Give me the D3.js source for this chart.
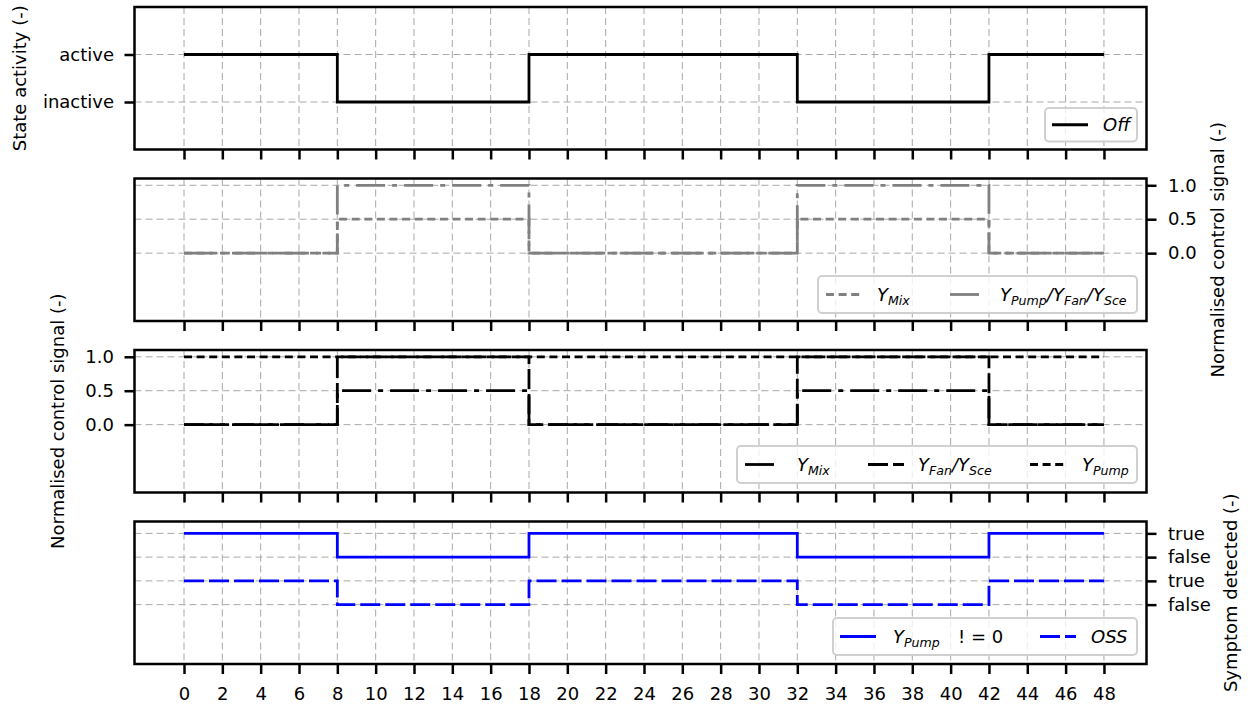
<!DOCTYPE html>
<html>
<head>
<meta charset="utf-8">
<script src="https://cdn.jsdelivr.net/npm/d3@7/dist/d3.min.js"></script>
<style>
  body { margin: 0; background: #fff; }
  svg { display: block; font-family: "DejaVu Sans", sans-serif; }
  .grid line { stroke: #a8a8a8; stroke-width: 1; stroke-dasharray: 7,4; }
  .tick line { stroke: #000; stroke-width: 2.5; }
  .tick text { font-size: 18px; fill: #000; }
  .lbl { font-size: 18px; }
  .leg text { font-size: 18px; font-style: italic; }
</style>
</head>
<body>
<svg id="chart" width="1248" height="707"></svg>
<script>
// switching instants (h) and per-interval values
var switchTimes = [0, 8, 18, 32, 42, 48];
var offState    = [1, 0, 1, 0, 1];           // 1 = active, 0 = inactive
var yMixA       = [0, 0.5, 0, 0.5, 0];
var yPumpFanSce = [0, 1, 0, 1, 0];
var yMixB       = [0, 0.5, 0, 0.5, 0];
var yFanSce     = [0, 1, 0, 1, 0];
var yPump       = [1, 1, 1, 1, 1];
var pumpNonZero = [1, 0, 1, 0, 1];           // true / false
var ossFlag     = [1, 0, 1, 0, 1];
var xTicks = d3.range(0, 49, 2);
var stateLabels = ["inactive", "active"];
var signalTicks = [0, 0.5, 1.0];
var boolLabels = ["false", "true", "false", "true"];

var svg = d3.select("#chart");
var left = 134.5, right = 1146.5;
var x = d3.scaleLinear().domain([-2.583, 50.22]).range([left, right]);

var panelTop = [7, 178.5, 350, 521.5], panelH = 142.5;
var yDomains = [[-1, 2], [-1, 1.1], [-1, 1.1], [-2.5, 3.5]];
var ys = yDomains.map(function(d, i) {
  return d3.scaleLinear().domain(d).range([panelTop[i] + panelH, panelTop[i]]);
});

function stepPts(vals, off) {
  off = off || 0;
  var pts = vals.map(function(v, i) { return [switchTimes[i], v + off]; });
  pts.push([switchTimes[switchTimes.length - 1], vals[vals.length - 1] + off]);
  return pts;
}

function drawPanel(i, yTickVals, yTickFmt, side) {
  var y = ys[i];
  var g = svg.append("g");
  // grid
  var grid = g.append("g").attr("class", "grid");
  grid.selectAll("line.v").data(xTicks).enter().append("line")
    .attr("x1", x).attr("x2", x)
    .attr("y1", panelTop[i]).attr("y2", panelTop[i] + panelH);
  grid.selectAll("line.h").data(yTickVals).enter().append("line")
    .attr("x1", left).attr("x2", right)
    .attr("y1", y).attr("y2", y);
  // x axis ticks
  var xa = g.append("g").attr("transform", "translate(0," + (panelTop[i] + panelH) + ")")
    .call(d3.axisBottom(x).tickValues(xTicks).tickSize(10).tickPadding(13)
      .tickFormat(i === 3 ? d3.format("d") : function() { return ""; }));
  xa.select(".domain").remove();
  // y axis
  var ya;
  if (side === "left") {
    ya = g.append("g").attr("transform", "translate(" + left + ",0)")
      .call(d3.axisLeft(y).tickValues(yTickVals).tickSize(10).tickPadding(10.5).tickFormat(yTickFmt));
  } else {
    ya = g.append("g").attr("transform", "translate(" + right + ",0)")
      .call(d3.axisRight(y).tickValues(yTickVals).tickSize(10).tickPadding(11.5).tickFormat(yTickFmt));
  }
  ya.select(".domain").remove();
  xa.selectAll("text").style("font-family", "DejaVu Sans");
  ya.selectAll("text").style("font-family", "DejaVu Sans");
  return g;
}

var line = function(y) {
  return d3.line().x(function(d) { return x(d[0]); }).y(function(d) { return y(d[1]); }).curve(d3.curveStepAfter);
};

function series(g, y, pts, color, dash) {
  g.append("path").attr("d", line(y)(pts)).attr("fill", "none")
    .attr("stroke", color).attr("stroke-width", 2.8)
    .attr("stroke-dasharray", dash || null);
}

var DASH = "20,5", DOT = "8,4.6", DASHDOT = "29,7,5,7";

// legend helper
function legend(box, items) {
  var lg = svg.append("g").attr("class", "leg");
  lg.append("rect").attr("x", box[0]).attr("y", box[1])
    .attr("width", box[2] - box[0]).attr("height", box[3] - box[1])
    .attr("rx", 4).attr("fill", "#fff").attr("fill-opacity", 0.8)
    .attr("stroke", "#d0d0d0").attr("stroke-width", 2);
  var cy = (box[1] + box[3]) / 2;
  items.forEach(function(it) {
    lg.append("line").attr("x1", it.hx).attr("x2", it.hx + 36)
      .attr("y1", cy).attr("y2", cy)
      .attr("stroke", it.color).attr("stroke-width", 2.8)
      .attr("stroke-dasharray", it.dash || null);
    var t = lg.append("text").attr("x", it.tx).attr("y", cy + 6);
    it.parts.forEach(function(p) {
      if (p.sub) {
        t.append("tspan").text(p.t).attr("font-size", "12.6px").attr("dy", 4);
      } else {
        t.append("tspan").text(p.t).attr("dy", p.back ? -4 : 0);
      }
    });
    if (it.extra) {
      lg.append("text").attr("x", it.extra[0]).attr("y", cy + 6)
        .style("font-style", "normal").text(it.extra[1]);
    }
  });
}

// Panel 1
var g0 = drawPanel(0, [0, 1], function(d) { return stateLabels[d]; }, "left");
series(g0, ys[0], stepPts(offState), "#000");

// Panel 2
var g1 = drawPanel(1, signalTicks, d3.format(".1f"), "right");
series(g1, ys[1], stepPts(yMixA), "#808080", DOT);
series(g1, ys[1], stepPts(yPumpFanSce), "#808080", DASHDOT);

// Panel 3
var g2 = drawPanel(2, signalTicks, d3.format(".1f"), "left");
series(g2, ys[2], stepPts(yMixB), "#000", DASHDOT);
series(g2, ys[2], stepPts(yFanSce), "#000", DASH);
series(g2, ys[2], stepPts(yPump), "#000", DOT);

// Panel 4
var g3 = drawPanel(3, [0, 1, 2, 3], function(d) { return boolLabels[d]; }, "right");
series(g3, ys[3], stepPts(pumpNonZero, 2), "#0000ff");
series(g3, ys[3], stepPts(ossFlag, 0), "#0000ff", DASH);

// frames
ys.forEach(function(y, i) {
  svg.append("rect").attr("x", left).attr("y", panelTop[i])
    .attr("width", right - left).attr("height", panelH)
    .attr("fill", "none").attr("stroke", "#000").attr("stroke-width", 2.5);
});

// legends
legend([1045, 108, 1137, 141.5], [
  { color: "#000", hx: 1052, tx: 1103, parts: [{ t: "Off" }] }
]);
legend([818, 276, 1137, 313], [
  { color: "#808080", dash: DOT, hx: 826, tx: 877, parts: [{ t: "Y" }, { t: "Mix", sub: true }] },
  { color: "#808080", dash: DASHDOT, hx: 950, tx: 1000,
    parts: [{ t: "Y" }, { t: "Pump", sub: true }, { t: "/Y", back: true }, { t: "Fan", sub: true }, { t: "/Y", back: true }, { t: "Sce", sub: true }] }
]);
legend([737, 446, 1137, 483], [
  { color: "#000", dash: DASHDOT, hx: 745, tx: 797, parts: [{ t: "Y" }, { t: "Mix", sub: true }] },
  { color: "#000", dash: DASH, hx: 868, tx: 918, parts: [{ t: "Y" }, { t: "Fan", sub: true }, { t: "/Y", back: true }, { t: "Sce", sub: true }] },
  { color: "#000", dash: DOT, hx: 1030, tx: 1082, parts: [{ t: "Y" }, { t: "Pump", sub: true }] }
]);
legend([833, 618, 1137, 655], [
  { color: "#0000ff", hx: 840, tx: 893, parts: [{ t: "Y" }, { t: "Pump", sub: true }], extra: [958, "! = 0"] },
  { color: "#0000ff", dash: DASH, hx: 1040, tx: 1091, parts: [{ t: "OSS" }] }
]);

// axis labels, centred on their panel
function ylabel(xb, i, txt) {
  svg.append("text").attr("class", "lbl")
    .attr("transform", "translate(" + xb + "," + (panelTop[i] + panelH / 2) + ") rotate(-90)")
    .attr("text-anchor", "middle").text(txt);
}
ylabel(25.5, 0, "State activity (-)");
ylabel(1223.5, 1, "Normalised control signal (-)");
ylabel(64, 2, "Normalised control signal (-)");
ylabel(1237, 3, "Symptom detected (-)");
</script>
</body>
</html>
